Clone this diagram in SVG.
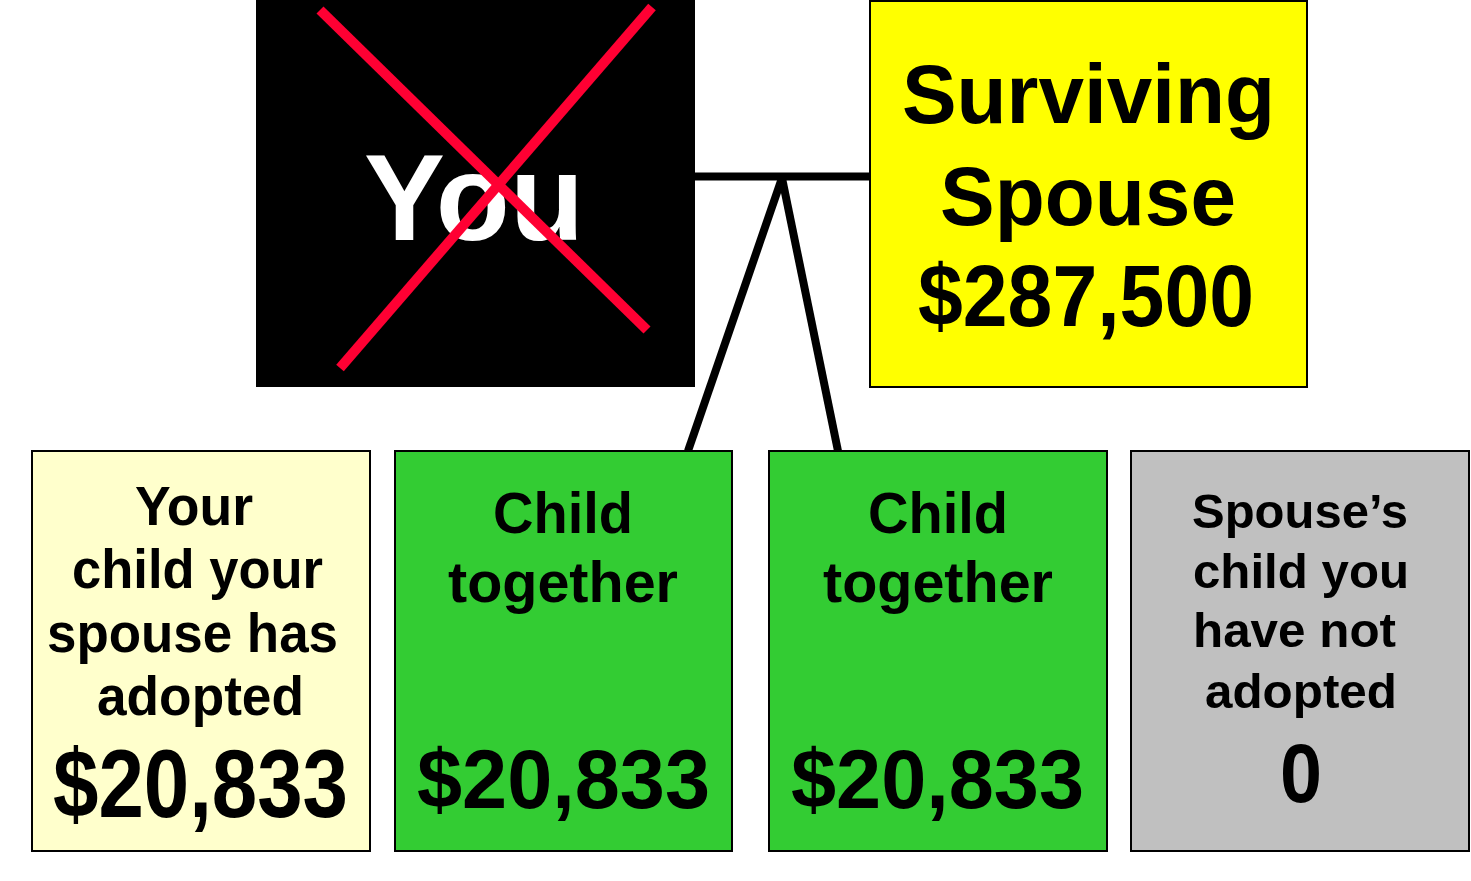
<svg xmlns="http://www.w3.org/2000/svg" width="1471" height="881" viewBox="0 0 1471 881">
<style>
.t{font-family:"Liberation Sans",Arial,sans-serif;font-weight:bold;fill:#000;text-anchor:middle}
.box{stroke:#000;stroke-width:2}
.conn{stroke:#000;stroke-width:8;fill:none}
.x{stroke:#ff0033;stroke-width:10;stroke-linecap:butt}
</style>
<rect x="0" y="0" width="1471" height="881" fill="#fff"/>
<g id="connectors">
<line class="conn" x1="695" y1="176.5" x2="870" y2="176.5"/>
<line class="conn" x1="688" y1="451" x2="782" y2="178"/>
<line class="conn" x1="838" y1="451" x2="782" y2="178"/>
</g>
<g id="you">
<rect x="256" y="0" width="439" height="387" fill="#000"/>
<text class="t" x="474" y="240" font-size="122" style="fill:#fff" textLength="220" lengthAdjust="spacingAndGlyphs">You</text>
<line class="x" x1="320" y1="10" x2="647" y2="330"/>
<line class="x" x1="652" y1="7" x2="340" y2="368"/>
</g>
<g id="spouse">
<rect class="box" x="870" y="1" width="437" height="386" fill="#ffff00"/>
<text class="t" x="1088.5" y="123" font-size="84" textLength="373" lengthAdjust="spacingAndGlyphs">Surviving</text>
<text class="t" x="1088" y="225" font-size="84" textLength="296" lengthAdjust="spacingAndGlyphs">Spouse</text>
<text class="t" x="1086" y="326" font-size="88" textLength="336" lengthAdjust="spacingAndGlyphs">$287,500</text>
</g>
<g id="child-adopted">
<rect class="box" x="32" y="451" width="338" height="400" fill="#ffffcc"/>
<text class="t" x="194" y="525" font-size="55" textLength="118" lengthAdjust="spacingAndGlyphs">Your</text>
<text class="t" x="197.5" y="588" font-size="55" textLength="251" lengthAdjust="spacingAndGlyphs">child your</text>
<text class="t" x="192.5" y="652" font-size="55" textLength="291" lengthAdjust="spacingAndGlyphs">spouse has</text>
<text class="t" x="200.5" y="715" font-size="55" textLength="207" lengthAdjust="spacingAndGlyphs">adopted</text>
<text class="t" x="200.5" y="817" font-size="96" textLength="295" lengthAdjust="spacingAndGlyphs">$20,833</text>
</g>
<g id="child-together-1">
<rect class="box" x="395" y="451" width="337" height="400" fill="#33cc33"/>
<text class="t" x="563" y="533" font-size="57" textLength="140" lengthAdjust="spacingAndGlyphs">Child</text>
<text class="t" x="563" y="602" font-size="57" textLength="230" lengthAdjust="spacingAndGlyphs">together</text>
<text class="t" x="563.5" y="808" font-size="84" textLength="293" lengthAdjust="spacingAndGlyphs">$20,833</text>
</g>
<g id="child-together-2">
<rect class="box" x="769" y="451" width="338" height="400" fill="#33cc33"/>
<text class="t" x="938" y="533" font-size="57" textLength="140" lengthAdjust="spacingAndGlyphs">Child</text>
<text class="t" x="938" y="602" font-size="57" textLength="230" lengthAdjust="spacingAndGlyphs">together</text>
<text class="t" x="937.5" y="808" font-size="84" textLength="293" lengthAdjust="spacingAndGlyphs">$20,833</text>
</g>
<g id="spouse-child">
<rect class="box" x="1131" y="451" width="338" height="400" fill="#c0c0c0"/>
<text class="t" x="1300" y="528" font-size="48.5" textLength="216" lengthAdjust="spacingAndGlyphs">Spouse’s</text>
<text class="t" x="1301" y="588" font-size="48.5" textLength="216" lengthAdjust="spacingAndGlyphs">child you</text>
<text class="t" x="1294.5" y="647" font-size="48.5" textLength="203" lengthAdjust="spacingAndGlyphs">have not</text>
<text class="t" x="1301" y="708" font-size="48.5" textLength="192" lengthAdjust="spacingAndGlyphs">adopted</text>
<text class="t" x="1301" y="802" font-size="84" textLength="42" lengthAdjust="spacingAndGlyphs">0</text>
</g>
</svg>
